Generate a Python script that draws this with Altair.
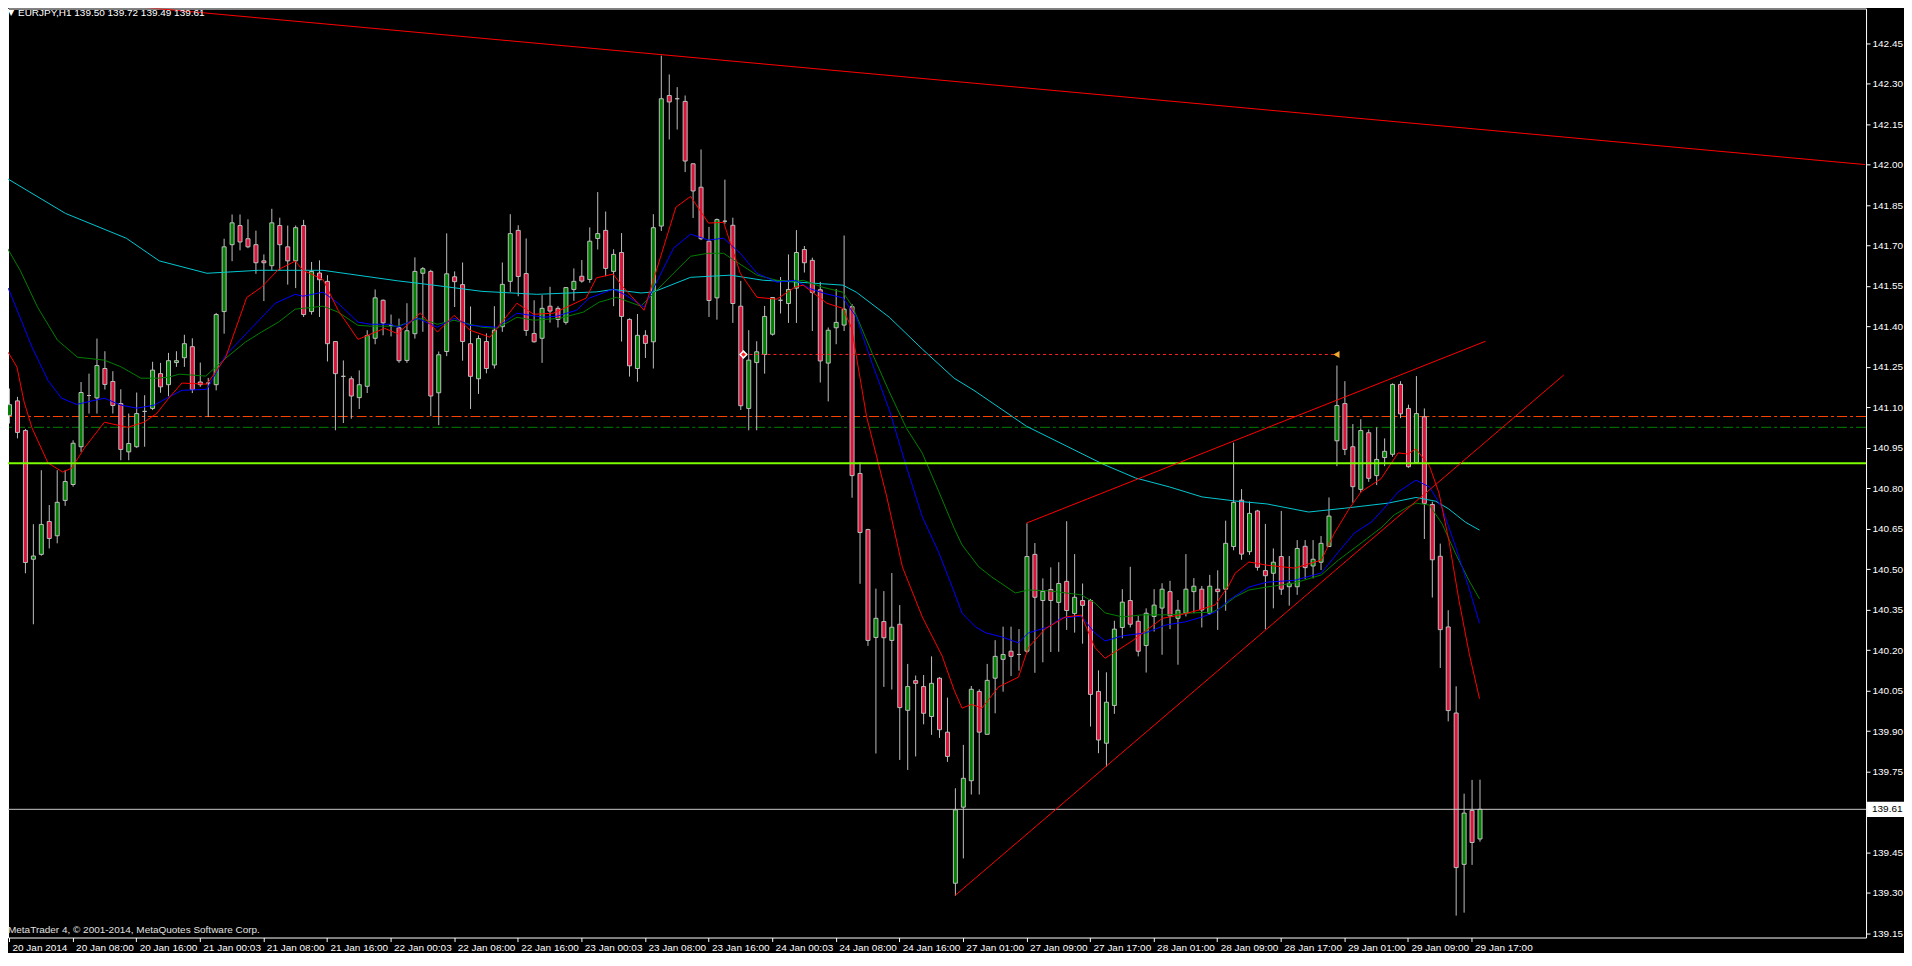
import altair as alt
import pandas as pd

symbol = "EURJPY,H1"

opens = [141.07, 141.124, 141.014, 140.537, 140.555, 140.677, 140.624, 140.755, 140.814, 140.954,
         141.144, 141.135, 141.244, 141.196, 141.114, 140.935, 140.954, 141.085, 141.096, 141.225,
         141.184, 141.266, 141.284, 141.325, 141.194, 141.19, 141.184, 141.455, 141.703, 141.774,
         141.725, 141.703, 141.643, 141.625, 141.774, 141.695, 141.643, 141.774, 141.455, 141.598,
         141.567, 141.344, 141.215, 141.206, 141.136, 141.178, 141.356, 141.497, 141.404, 141.395,
         141.274, 141.373, 141.597, 141.604, 141.154, 141.307, 141.584, 141.555, 141.336, 141.206,
         141.344, 141.257, 141.399, 141.567, 141.756, 141.596, 141.374, 141.356, 141.475, 141.467,
         141.415, 141.537, 141.586, 141.574, 141.726, 141.756, 141.604, 141.674, 141.426, 141.244,
         141.367, 141.343, 141.772, 142.256, 142.244, 142.234, 142.003, 141.916, 141.716, 141.506,
         141.79, 141.775, 141.475, 141.096, 141.266, 141.296, 141.371, 141.497, 141.485, 141.542,
         141.685, 141.645, 141.536, 141.264, 141.395, 141.405, 141.473, 140.855, 140.647, 140.247,
         140.306, 140.236, 140.296, 139.977, 140.087, 140.065, 139.954, 140.096, 139.896, 139.336,
         139.618, 139.716, 140.047, 139.888, 140.096, 140.166, 140.196, 140.184, 140.196, 140.555,
         140.384, 140.425, 140.377, 140.455, 140.336, 140.384, 140.384, 140.047, 139.855, 139.995,
         140.284, 140.384, 140.307, 140.217, 140.325, 140.356, 140.417, 140.318, 140.337, 140.417,
         140.426, 140.337, 140.426, 140.426, 140.584, 140.756, 140.565, 140.716, 140.495, 140.485,
         140.547, 140.435, 140.435, 140.585, 140.512, 140.526, 140.584, 140.976, 141.114, 140.954,
         140.796, 141.006, 140.847, 140.914, 140.926, 141.185, 141.096, 140.895, 141.065, 140.740,
         140.548, 140.286, 139.967, 139.406, 139.606, 139.50]
highs = [141.17, 141.139, 141.02, 140.667, 140.867, 140.738, 140.867, 140.867, 140.978, 141.194,
         141.225, 141.355, 141.308, 141.234, 141.167, 141.077, 141.155, 141.145, 141.269, 141.265,
         141.302, 141.308, 141.369, 141.356, 141.266, 141.209, 141.45, 141.725, 141.815, 141.815,
         141.797, 141.755, 141.667, 141.836, 141.803, 141.774, 141.774, 141.795, 141.639, 141.645,
         141.59, 141.344, 141.274, 141.215, 141.237, 141.386, 141.537, 141.50, 141.444, 141.429,
         141.486, 141.656, 141.62, 141.61, 141.307, 141.745, 141.604, 141.637, 141.474, 141.367,
         141.374, 141.475, 141.637, 141.816, 141.775, 141.726, 141.497, 141.516, 141.547, 141.475,
         141.546, 141.615, 141.646, 141.767, 141.898, 141.826, 141.686, 141.746, 141.43, 141.446,
         141.386, 141.816, 142.404, 142.334, 142.287, 142.256, 142.003, 142.056, 141.769, 141.80,
         141.944, 141.803, 141.569, 141.386, 141.345, 141.476, 141.507, 141.583, 141.667, 141.757,
         141.698, 141.655, 141.565, 141.396, 141.539, 141.737, 141.483, 140.897, 140.65, 140.428,
         140.419, 140.486, 140.367, 140.149, 140.106, 140.108, 140.177, 140.10, 140.024, 139.688,
         139.849, 140.067, 140.055, 140.149, 140.237, 140.287, 140.287, 140.278, 140.670, 140.597,
         140.466, 140.507, 140.526, 140.678, 140.556, 140.447, 140.39, 140.125, 140.118, 140.309,
         140.426, 140.509, 140.327, 140.355, 140.426, 140.448, 140.457, 140.386, 140.556, 140.467,
         140.438, 140.479, 140.496, 140.68, 140.969, 140.797, 140.751, 140.72, 140.668, 140.577,
         140.716, 140.549, 140.608, 140.608, 140.608, 140.623, 140.766, 141.255, 141.197, 141.038,
         141.056, 141.018, 141.026, 140.985, 141.189, 141.197, 141.11, 141.216, 141.096, 140.75,
         140.595, 140.348, 140.066, 139.668, 139.719, 139.72]
lows = [141.04, 140.985, 140.485, 140.296, 140.55, 140.577, 140.596, 140.735, 140.806, 140.935,
        141.077, 141.077, 141.166, 141.077, 140.904, 140.904, 140.95, 140.954, 141.09, 141.154,
        141.141, 141.25, 141.25, 141.153, 141.176, 141.064, 141.163, 141.373, 141.642, 141.682,
        141.69, 141.595, 141.494, 141.608, 141.608, 141.555, 141.542, 141.435, 141.444, 141.435,
        141.27, 141.015, 141.042, 141.058, 141.094, 141.153, 141.334, 141.367, 141.363, 141.265,
        141.265, 141.355, 141.38, 141.067, 141.034, 141.29, 141.472, 141.273, 141.094, 141.15,
        141.226, 141.244, 141.38, 141.528, 141.512, 141.365, 141.34, 141.265, 141.414, 141.396,
        141.407, 141.495, 141.562, 141.562, 141.685, 141.586, 141.475, 141.344, 141.214, 141.195,
        141.283, 141.244, 141.754, 142.093, 142.13, 141.972, 141.802, 141.72, 141.435, 141.425,
        141.78, 141.413, 141.09, 141.015, 141.015, 141.225, 141.366, 141.448, 141.413, 141.413,
        141.60, 141.383, 141.192, 141.122, 141.334, 141.383, 140.765, 140.446, 140.216, 139.817,
        140.064, 140.054, 139.793, 139.756, 139.806, 139.925, 139.886, 139.875, 139.786, 139.289,
        139.428, 139.665, 139.665, 139.888, 139.966, 140.046, 140.104, 140.124, 140.19, 140.116,
        140.155, 140.193, 140.194, 140.275, 140.265, 140.224, 139.917, 139.818, 139.768, 139.964,
        140.244, 140.284, 140.177, 140.117, 140.269, 140.183, 140.278, 140.146, 140.325, 140.337,
        140.284, 140.331, 140.275, 140.346, 140.57, 140.535, 140.553, 140.495, 140.277, 140.355,
        140.405, 140.365, 140.405, 140.464, 140.466, 140.497, 140.584, 140.882, 140.923, 140.747,
        140.784, 140.824, 140.812, 140.882, 140.917, 141.06, 140.876, 140.893, 140.612, 140.395,
        140.134, 139.936, 139.216, 139.227, 139.404, 139.49]
closes = [141.11, 141.007, 140.525, 140.549, 140.666, 140.614, 140.748, 140.825, 140.967, 141.155,
          141.144, 141.255, 141.185, 141.107, 140.944, 140.966, 141.077, 141.085, 141.238, 141.176,
          141.273, 141.273, 141.336, 141.166, 141.184, 141.19, 141.444, 141.695, 141.784, 141.713,
          141.695, 141.636, 141.636, 141.784, 141.703, 141.643, 141.766, 141.444, 141.604, 141.573,
          141.336, 141.225, 141.215, 141.142, 141.184, 141.366, 141.506, 141.413, 141.404, 141.273,
          141.384, 141.604, 141.614, 141.142, 141.295, 141.595, 141.566, 141.344, 141.215, 141.355,
          141.244, 141.386, 141.556, 141.744, 141.585, 141.385, 141.343, 141.467, 141.457, 141.426,
          141.544, 141.567, 141.568, 141.716, 141.744, 141.615, 141.667, 141.437, 141.254, 141.367,
          141.337, 141.766, 142.244, 142.232, 142.244, 142.013, 141.902, 141.725, 141.496, 141.796,
          141.79, 141.485, 141.106, 141.275, 141.306, 141.437, 141.507, 141.497, 141.537, 141.674,
          141.636, 141.526, 141.272, 141.386, 141.415, 141.464, 140.847, 140.636, 140.236, 140.318,
          140.246, 140.285, 139.987, 140.065, 140.077, 139.966, 140.077, 139.905, 139.806, 139.608,
          139.725, 140.055, 139.896, 140.088, 140.177, 140.184, 140.177, 140.184, 140.547, 140.396,
          140.418, 140.384, 140.447, 140.347, 140.396, 140.366, 140.036, 139.867, 140.007, 140.278,
          140.378, 140.296, 140.196, 140.337, 140.367, 140.426, 140.327, 140.348, 140.426, 140.437,
          140.349, 140.437, 140.417, 140.596, 140.748, 140.556, 140.707, 140.507, 140.476, 140.526,
          140.426, 140.448, 140.577, 140.506, 140.537, 140.596, 140.697, 141.107, 140.944, 140.806,
          141.014, 140.837, 140.907, 140.937, 141.185, 141.076, 140.880, 141.077, 140.744, 140.535,
          140.276, 139.976, 139.394, 139.596, 139.487, 139.61]

time_labels = ["20 Jan 2014", "20 Jan 08:00", "20 Jan 16:00", "21 Jan 00:03", "21 Jan 08:00",
               "21 Jan 16:00", "22 Jan 00:03", "22 Jan 08:00", "22 Jan 16:00", "23 Jan 00:03",
               "23 Jan 08:00", "23 Jan 16:00", "24 Jan 00:03", "24 Jan 08:00", "24 Jan 16:00",
               "27 Jan 01:00", "27 Jan 09:00", "27 Jan 17:00", "28 Jan 01:00", "28 Jan 09:00",
               "28 Jan 17:00", "29 Jan 01:00", "29 Jan 09:00", "29 Jan 17:00"]
time_label_bars = [0, 8, 16, 24, 32, 40, 48, 56, 64, 72, 80, 88, 96, 104, 112, 120,
                   128, 136, 144, 152, 160, 168, 176, 184]
price_ticks = [139.15, 139.30, 139.45, 139.75, 139.90, 140.05, 140.20, 140.35, 140.50, 140.65,
               140.80, 140.95, 141.10, 141.25, 141.40, 141.55, 141.70, 141.85, 142.00, 142.15,
               142.30, 142.45]

ma_red_x = [-0.1, 1, 1.9, 2.9, 4.9, 6.75, 7.9, 9.5, 12, 14.9, 17, 18.6, 20.1, 21.75, 24.9, 27.25, 29.9,
            31.75, 33.9, 36, 37, 39.5, 41.4, 43.9, 47.25, 48.9, 51.75, 53.9, 56, 58, 60.5, 63.9, 66,
            68.5, 72.6, 73.9, 76, 77.25, 79.9, 83.9, 85.75, 88, 89.9, 92, 94.1, 96.6, 98.9, 99.9,
            102.9, 104.9, 106, 107.9, 110.4, 112.4, 114.9, 117.4, 118.9, 119.9, 121.1, 122.4, 124.5,
            127, 128.25, 130.4, 132.9, 134.9, 136.6, 137.9, 141.4, 145.1, 147.25, 149.75, 151.75,
            153.5, 154.25, 156, 158.25, 161.75, 165.1, 166.75, 168.5, 170.1, 172.6, 174.75, 176, 177,
            178.7, 179.9, 181.2, 182.4, 183.7, 185]
ma_red_y = [141.304, 141.249, 141.12, 141.023, 140.894, 140.86, 140.875, 140.95, 141.045, 141.026,
            141.045, 141.078, 141.134, 141.19, 141.186, 141.285, 141.507, 141.545, 141.611, 141.642,
            141.608, 141.574, 141.46, 141.352, 141.393, 141.373, 141.45, 141.379, 141.441, 141.386,
            141.36, 141.486, 141.445, 141.449, 141.505, 141.58, 141.594, 141.546, 141.46, 141.842,
            141.882, 141.783, 141.786, 141.597, 141.508, 141.501, 141.546, 141.553, 141.486, 141.467,
            141.394, 141.064, 140.772, 140.508, 140.323, 140.178, 140.052, 139.985, 139.999, 139.985,
            140.064, 140.10, 140.21, 140.28, 140.323, 140.33, 140.21, 140.17, 140.236, 140.318, 140.33,
            140.349, 140.368, 140.442, 140.485, 140.527, 140.515, 140.504, 140.534, 140.634, 140.719,
            140.787, 140.835, 140.931, 140.927, 140.946, 140.883, 140.783, 140.598, 140.387, 140.188,
            140.02]

ma_blue_x = [-0.1, 2.9, 4.9, 6.6, 8.5, 12, 14.1, 16.1, 18.25, 20.1, 21.75, 24.9, 27.25, 29.9, 33.5, 36,
             37, 39.5, 41.4, 43.9, 45.5, 48, 48.9, 51.4, 53.9, 56, 58, 61.4, 63.9, 67.25, 68.9, 71.4,
             73, 76, 77.6, 79.9, 83.6, 85.75, 88, 89.9, 92, 94.1, 96.6, 98.9, 100.75, 102.9, 104.9,
             106.6, 108.6, 110.75, 112.9, 114.9, 117, 118.9, 119.9, 121.6, 122.9, 124.9, 127, 128.25,
             130.75, 132.4, 134.9, 136.6, 137.9, 140.1, 143, 145.5, 148, 150.1, 151.75, 153.5, 156,
             158.25, 161.75, 165.1, 167.25, 169.25, 171.4, 173, 174.75, 176.4, 177, 178.7, 180.3, 182,
             183.7, 185]
ma_blue_y = [141.542, 141.323, 141.2, 141.134, 141.111, 141.134, 141.108, 141.097, 141.108, 141.138,
             141.163, 141.167, 141.293, 141.375, 141.486, 141.519, 141.512, 141.527, 141.486, 141.416,
             141.408, 141.408, 141.397, 141.43, 141.397, 141.43, 141.404, 141.397, 141.449, 141.434,
             141.438, 141.46, 141.505, 141.538, 141.516, 141.471, 141.69, 141.742, 141.72, 141.727,
             141.671, 141.597, 141.564, 141.571, 141.54, 141.52, 141.506, 141.434, 141.262, 141.09,
             140.88, 140.694, 140.56, 140.416, 140.337, 140.286, 140.264, 140.249, 140.227, 140.264,
             140.286, 140.319, 140.326, 140.264, 140.234, 140.253, 140.264, 140.293, 140.305, 140.323,
             140.341, 140.386, 140.434, 140.452, 140.459, 140.486, 140.564, 140.634, 140.675, 140.726,
             140.786, 140.819, 140.83, 140.805, 140.727, 140.583, 140.428, 140.30]

ma_green_x = [-0.5, 1.4, 3.6, 6.1, 8.6, 12, 14.1, 16.6, 18.6, 20.1, 21.4, 24.75, 27.25, 29.75, 31.75,
              33.9, 36, 39.5, 41.4, 43.9, 45.5, 48.9, 51.75, 53.9, 56, 58, 59.5, 61.4, 63.9, 66, 69.25,
              72.25, 74.25, 76.4, 79.5, 83.6, 85.75, 87.9, 89.9, 91.6, 94.1, 96.6, 98.9, 99.9, 102.4,
              104.9, 106.1, 108.6, 110.75, 112.9, 114.9, 117, 118.9, 119.9, 122, 123.6, 126.6, 128.25,
              130.75, 134.9, 136.6, 137.9, 140.1, 142.6, 146, 148.9, 151.4, 152.6, 154.25, 156, 158.25,
              161.75, 165.1, 167.25, 170.1, 172.6, 174.25, 176, 177, 178.7, 180.3, 182, 183.7, 185]
ma_green_y = [141.705, 141.608, 141.471, 141.349, 141.286, 141.275, 141.25, 141.208, 141.208, 141.212,
              141.223, 141.216, 141.282, 141.342, 141.379, 141.416, 141.464, 141.475, 141.453, 141.404,
              141.401, 141.401, 141.43, 141.408, 141.423, 141.408, 141.397, 141.393, 141.434, 141.423,
              141.43, 141.453, 141.49, 141.508, 141.475, 141.597, 141.66, 141.671, 141.671, 141.638,
              141.59, 141.571, 141.567, 141.571, 141.545, 141.527, 141.475, 141.30, 141.157, 141.023,
              140.93, 140.786, 140.652, 140.59, 140.509, 140.472, 140.412, 140.423, 140.42, 140.405,
              140.375, 140.338, 140.323, 140.331, 140.331, 140.338, 140.341, 140.36, 140.397, 140.423,
              140.434, 140.449, 140.479, 140.534, 140.597, 140.653, 140.701, 140.731, 140.745, 140.738,
              140.668, 140.557, 140.457, 140.39]

ma_cyan_x = [-0.5, 7.1, 14.75, 18.9, 24.9, 31.4, 39.5, 48.9, 52.6, 59.5, 66.4, 73.9, 76, 79.5, 81.1,
             85.75, 90.75, 94.9, 98.9, 104.9, 106.6, 110.75, 114.9, 118.9, 121.4, 128, 137.6, 141.75,
             146, 150.1, 154.25, 158.25, 163.5, 168, 173.5, 177, 179.5, 181.1, 183.25, 185]
ma_cyan_y = [141.953, 141.819, 141.727, 141.643, 141.597, 141.608, 141.608, 141.569, 141.556, 141.53,
             141.519, 141.528, 141.537, 141.524, 141.528, 141.582, 141.59, 141.571, 141.565, 141.553,
             141.527, 141.434, 141.316, 141.208, 141.163, 141.03, 140.89, 140.838, 140.805, 140.768,
             140.753, 140.742, 140.712, 140.726, 140.745, 140.766, 140.752, 140.724, 140.674, 140.645]

lime_level = 140.893
orange_level = 141.066
green_level = 141.026
signal_level = 141.296
signal_from = 92.4
signal_to = 167.0

trend_top_x = [12, 233.5]
trend_top_y = [142.596, 142.00]
wedge_up_x = [128, 185.75]
wedge_up_y = [140.671, 141.345]
wedge_lo_x = [119, 195.6]
wedge_lo_y = [139.29, 141.22]

# ---------------------------------------------------------------
FONT = "Liberation Sans"
WICK = "#bdbdbd"
W, H = 1860, 930

xscale = alt.Scale(domain=[0.5, 233.0], nice=False, zero=False)
yscale = alt.Scale(domain=[139.1348, 142.5785], nice=False, zero=False)

label_expr = "[" + ",".join("'%s'" % s for s in time_labels) + "][round(datum.value / 8)]"
xaxis = alt.Axis(values=time_label_bars, labelExpr=label_expr, labelAlign="left", labelOffset=3,
                 labelColor="white", labelFont=FONT, labelFontSize=10, labelPadding=1,
                 tickColor="white", tickSize=4, domain=False, grid=False, labelOverlap=False,
                 labelFlush=False, title=None)
yaxis = alt.Axis(orient="right", values=price_ticks, format=".2f", labelColor="white",
                 labelFont=FONT, labelFontSize=10, labelPadding=2, tickColor="white", tickSize=4,
                 domain=False, grid=False, labelOverlap=False, labelFlush=False, title=None)


def X(field):
    return alt.X(field, type="quantitative", scale=xscale, axis=xaxis, title=None)


def Y(field):
    return alt.Y(field, type="quantitative", scale=yscale, axis=yaxis, title=None)


n = len(opens)
candles = pd.DataFrame({"i": list(range(n)), "open": opens, "high": highs, "low": lows,
                        "close": closes})
candles["dir"] = ["up" if c >= o else "down" for o, c in zip(opens, closes)]

wicks = alt.Chart(candles).mark_rule(color=WICK, strokeWidth=1, clip=True, xOffset=0.5).encode(
    x=X("i"), y=Y("low"), y2="high")
bodies = alt.Chart(candles).mark_bar(size=4, stroke=WICK, strokeWidth=1, clip=True,
                                     xOffset=0.5).encode(
    x=X("i"), y=Y("open"), y2="close",
    fill=alt.Fill("dir:N", scale=alt.Scale(domain=["up", "down"], range=["#008000", "#dc143c"]),
                  legend=None))


def ma_line(xs, ys, color):
    df = pd.DataFrame({"i": xs, "p": ys})
    return alt.Chart(df).mark_line(color=color, strokeWidth=1, clip=True).encode(
        x=X("i"), y=Y("p"), order="i:Q")


ma_cyan = ma_line(ma_cyan_x, ma_cyan_y, "#00c8d2")
ma_green = ma_line(ma_green_x, ma_green_y, "#008000")
ma_blue = ma_line(ma_blue_x, ma_blue_y, "#0000ff")
ma_red = ma_line(ma_red_x, ma_red_y, "#ff0000")


def hline(level, color, width=1, dash=None):
    kw = dict(color=color, strokeWidth=width, clip=True)
    if dash:
        kw["strokeDash"] = dash
    return alt.Chart(pd.DataFrame({"p": [level]})).mark_rule(**kw).encode(y=Y("p"))


orange_line = hline(orange_level, "#ff4500", 1, [10, 3, 3, 3])
green_line = hline(green_level, "#008000", 1, [10, 3, 3, 3])
lime_line = hline(lime_level, "#7cfc00", 2)
bid_line = hline(closes[-1], "#c8c8c8", 1)

signal_df = pd.DataFrame({"i": [signal_from], "i2": [signal_to], "p": [signal_level]})
signal_line = alt.Chart(signal_df).mark_rule(color="#ff2020", strokeDash=[3, 3], strokeWidth=1,
                                             clip=True).encode(x=X("i"), x2="i2", y=Y("p"))
signal_start = alt.Chart(pd.DataFrame({"i": [signal_from], "p": [signal_level]})).mark_point(
    shape="diamond", filled=True, fill="#ff2020", stroke="white", strokeWidth=1.5, size=45,
    opacity=1).encode(x=X("i"), y=Y("p"))
signal_end = alt.Chart(pd.DataFrame({"i": [signal_to], "p": [signal_level]})).mark_point(
    shape="triangle-left", filled=True, fill="#f0a830", size=50, opacity=1).encode(
    x=X("i"), y=Y("p"))


def seg(xs, ys):
    df = pd.DataFrame({"i": xs, "p": ys})
    return alt.Chart(df).mark_line(color="#ff0000", strokeWidth=1, clip=True).encode(
        x=X("i"), y=Y("p"))


trend_top = seg(trend_top_x, trend_top_y)
wedge_up = seg(wedge_up_x, wedge_up_y)
wedge_lo = seg(wedge_lo_x, wedge_lo_y)

title_text = "%s  %.2f %.2f %.2f %.2f" % (symbol, opens[-1], highs[-1], lows[-1], closes[-1])
title_mark = alt.Chart(pd.DataFrame({"t": [title_text]})).mark_text(
    align="left", baseline="middle", color="white", font=FONT, fontSize=10).encode(
    text="t:N", x=alt.value(10), y=alt.value(5))
tri_mark = alt.Chart(pd.DataFrame({"t": ["▼"]})).mark_text(
    align="left", baseline="middle", color="white", font="DejaVu Sans", fontSize=8).encode(
    text="t:N", x=alt.value(0), y=alt.value(5))
copy_mark = alt.Chart(pd.DataFrame({"t": ["MetaTrader 4, © 2001-2014, MetaQuotes Software Corp."]})).mark_text(
    align="left", baseline="middle", color="#e0e0e0", font=FONT, fontSize=10).encode(
    text="t:N", x=alt.value(0), y=alt.value(922))

bid_box = alt.Chart(pd.DataFrame({"p": [closes[-1] + 0.028], "p2": [closes[-1] - 0.028]})).mark_rect(
    fill="white").encode(x=alt.value(W + 1), x2=alt.value(W + 38), y=Y("p"), y2="p2")
bid_text = alt.Chart(pd.DataFrame({"p": [closes[-1]], "t": ["%.2f" % closes[-1]]})).mark_text(
    align="left", baseline="middle", color="black", font=FONT, fontSize=10).encode(
    x=alt.value(W + 6), y=Y("p"), text="t:N")

chart = alt.layer(
    orange_line, green_line, wicks, bodies, ma_cyan, ma_green, ma_blue, ma_red,
    lime_line, bid_line, signal_line, trend_top, wedge_up, wedge_lo, signal_start, signal_end,
    title_mark, tri_mark, copy_mark, bid_box, bid_text
).properties(
    width=W, height=H, padding={"left": 0, "top": 0, "right": 0, "bottom": 0}, background="black"
).configure_view(stroke="white", strokeWidth=1, fill="black")

chart.save("out.html", embed_options={"renderer": "svg", "actions": False})
